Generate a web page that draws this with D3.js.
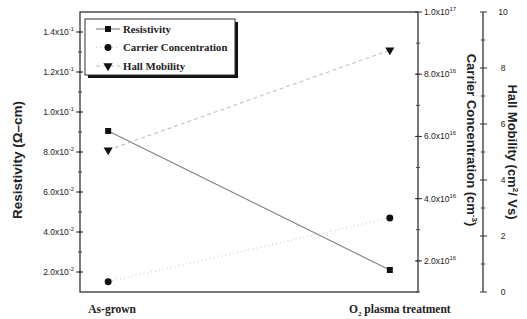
<!DOCTYPE html>
<html>
<meta charset=utf-8>
<head>
<style>
  body { margin: 0; background: #fff; }
  text { fill: #222; }
</style>
</head>
<body>
<svg id="canvas" width="527" height="319"></svg>
<script src="https://d3js.org/d3.v7.min.js"></script>
<script>

var categories = ['As-grown', 'O2 plasma treatment'];
var resistivity = [0.0905, 0.021];       // ohm-cm
var carrier = [1.33e16, 3.38e16];         // cm^-3
var mobility = [5.07, 8.64];              // cm2/Vs

var resTicks = [0.02, 0.04, 0.06, 0.08, 0.10, 0.12, 0.14];
var resTickText = [['2.0', '-2'], ['4.0', '-2'], ['6.0', '-2'], ['8.0', '-2'], ['1.0', '-1'], ['1.2', '-1'], ['1.4', '-1']];
var carTicks = [2e16, 4e16, 6e16, 8e16, 1e17];
var carTickText = [['2.0', '16'], ['4.0', '16'], ['6.0', '16'], ['8.0', '16'], ['1.0', '17']];
var mobTicks = [0, 2, 4, 6, 8, 10];

var svg = d3.select('#canvas');
var pLeft = 80, pRight = 418, pTop = 12, pBottom = 292;

var x = d3.scalePoint().domain(categories).range([pLeft, pRight]).padding(0.1);
var yRes = d3.scaleLinear().domain([0.01, 0.15]).range([pBottom, pTop]);
var yCar = d3.scaleLinear().domain([1e16, 1e17]).range([pBottom, pTop]);
var yMob = d3.scaleLinear().domain([0, 10]).range([pBottom, pTop]);

// frame
svg.append('rect')
  .attr('x', pLeft).attr('y', pTop)
  .attr('width', pRight - pLeft).attr('height', pBottom - pTop)
  .attr('fill', 'none').attr('stroke', '#333').attr('stroke-width', 1.3);

function sciLabel(sel, t) {
  sel.text(t[0] + 'x10');
  sel.append('tspan').attr('dy', -4).attr('font-size', 6).text(t[1]);
}

// left axis ticks
var minorRes = d3.range(2, 15).map(function(v) { return v / 100 });
svg.selectAll('.mres').data(minorRes).enter().append('line')
  .attr('x1', pLeft - 2).attr('x2', pLeft + 2)
  .attr('y1', function(d) { return yRes(d) }).attr('y2', function(d) { return yRes(d) })
  .attr('stroke', '#444');
svg.selectAll('.tres').data(resTicks).enter().append('line')
  .attr('x1', pLeft - 4).attr('x2', pLeft + 3)
  .attr('y1', function(d) { return yRes(d) }).attr('y2', function(d) { return yRes(d) })
  .attr('stroke', '#333');
svg.selectAll('.lres').data(resTicks).enter().append('text')
  .attr('x', pLeft - 6).attr('y', function(d) { return yRes(d) + 3 })
  .attr('text-anchor', 'end')
  .attr('font-family', 'Liberation Sans, Arial').attr('font-size', 8.5)
  .each(function(d, i) { sciLabel(d3.select(this), resTickText[i]) });

// carrier axis ticks (on right frame)
var minorCar = d3.range(1, 10).map(function(v) { return v * 1e16 });
svg.selectAll('.mcar').data(minorCar).enter().append('line')
  .attr('x1', pRight - 2).attr('x2', pRight + 2)
  .attr('y1', function(d) { return yCar(d) }).attr('y2', function(d) { return yCar(d) })
  .attr('stroke', '#444');
svg.selectAll('.tcar').data(carTicks).enter().append('line')
  .attr('x1', pRight - 3).attr('x2', pRight + 4)
  .attr('y1', function(d) { return yCar(d) }).attr('y2', function(d) { return yCar(d) })
  .attr('stroke', '#333');
svg.selectAll('.lcar').data(carTicks).enter().append('text')
  .attr('x', pRight + 6).attr('y', function(d) { return yCar(d) + 3 })
  .attr('font-family', 'Liberation Sans, Arial').attr('font-size', 8.5)
  .each(function(d, i) { sciLabel(d3.select(this), carTickText[i]) });

// mobility axis
var mobX = 483;
svg.append('line')
  .attr('x1', mobX).attr('x2', mobX).attr('y1', pTop).attr('y2', pBottom)
  .attr('stroke', '#333').attr('stroke-width', 1.3);
svg.selectAll('.mmob').data(d3.range(1, 10, 2)).enter().append('line')
  .attr('x1', mobX - 2).attr('x2', mobX + 2)
  .attr('y1', function(d) { return yMob(d) }).attr('y2', function(d) { return yMob(d) })
  .attr('stroke', '#444');
svg.selectAll('.tmob').data(mobTicks).enter().append('line')
  .attr('x1', mobX - 3).attr('x2', mobX + 4)
  .attr('y1', function(d) { return yMob(d) }).attr('y2', function(d) { return yMob(d) })
  .attr('stroke', '#333');
svg.selectAll('.lmob').data(mobTicks).enter().append('text')
  .attr('x', mobX + 20).attr('y', function(d) { return yMob(d) + 3 })
  .attr('text-anchor', 'middle')
  .attr('font-family', 'Liberation Sans, Arial').attr('font-size', 8.5)
  .text(function(d) { return d });

// axis titles
svg.append('text')
  .attr('transform', 'translate(22,160) rotate(-90)')
  .attr('text-anchor', 'middle')
  .attr('font-family', 'Liberation Sans, Arial').attr('font-weight', 'bold').attr('font-size', 13.5)
  .text('Resistivity (\u03A9\u2013cm)');

var carTitle = svg.append('text')
  .attr('transform', 'translate(467,140) rotate(90)')
  .attr('text-anchor', 'middle')
  .attr('font-family', 'Liberation Sans, Arial').attr('font-weight', 'bold').attr('font-size', 13)
  .text('Carrier Concentration (cm');
carTitle.append('tspan').attr('dy', -5).attr('font-size', 8).text('-3');
carTitle.append('tspan').attr('dy', 5).text(')');

var mobTitle = svg.append('text')
  .attr('transform', 'translate(508,152) rotate(90)')
  .attr('text-anchor', 'middle')
  .attr('font-family', 'Liberation Sans, Arial').attr('font-weight', 'bold').attr('font-size', 13)
  .text('Hall Mobility (cm');
mobTitle.append('tspan').attr('dy', -5).attr('font-size', 8).text('2');
mobTitle.append('tspan').attr('dy', 5).text('/ Vs)');

// category labels
svg.selectAll('.cat').data(categories).enter().append('text')
  .attr('x', function(d, i) { return x(d) + (i == 0 ? 4 : 10) })
  .attr('y', 313)
  .attr('text-anchor', 'middle')
  .attr('font-family', 'Liberation Serif, Times New Roman').attr('font-weight', 'bold').attr('font-size', 11.5)
  .each(function(d) {
    var t = d3.select(this);
    if (d.indexOf('O2') == 0) {
      t.text('O');
      t.append('tspan').attr('dy', 3).attr('font-size', 7).text('2');
      t.append('tspan').attr('dy', -3).text(' plasma treatment');
    } else {
      t.text(d);
    }
  });

// series
var series = [
  {name: 'Resistivity', values: resistivity, y: yRes, symbol: d3.symbolSquare, dash: null, stroke: '#808080', rot: 0, size: 36},
  {name: 'Carrier Concentration', values: carrier, y: yCar, symbol: d3.symbolCircle, dash: '1,3', stroke: '#c8c8c8', rot: 0, size: 38},
  {name: 'Hall Mobility', values: mobility, y: yMob, symbol: d3.symbolTriangle, dash: '4,3', stroke: '#c0c0c0', rot: 180, size: 36}
];

var line = d3.line();
series.forEach(function(s) {
  var pts = s.values.map(function(v, i) { return [x(categories[i]), s.y(v)] });
  svg.append('path')
    .attr('d', line(pts))
    .attr('fill', 'none')
    .attr('stroke', s.stroke)
    .attr('stroke-width', 1.1)
    .attr('stroke-dasharray', s.dash);
  svg.selectAll(null).data(pts).enter().append('path')
    .attr('d', d3.symbol().type(s.symbol).size(s.size))
    .attr('transform', function(p) { return 'translate(' + p[0] + ',' + p[1] + ') rotate(' + s.rot + ')' })
    .attr('fill', '#111');
});

// legend
var lg = svg.append('g');
lg.append('rect').attr('x', 88).attr('y', 22).attr('width', 150).attr('height', 56).attr('fill', '#111');
lg.append('rect').attr('x', 85).attr('y', 19).attr('width', 150).attr('height', 56)
  .attr('fill', '#fff').attr('stroke', '#333').attr('stroke-width', 1);
series.forEach(function(s, i) {
  var yy = 29 + i * 18.5;
  lg.append('line')
    .attr('x1', 96).attr('x2', 120).attr('y1', yy).attr('y2', yy)
    .attr('stroke', s.stroke).attr('stroke-width', 1.1).attr('stroke-dasharray', s.dash);
  lg.append('path')
    .attr('d', d3.symbol().type(s.symbol).size(s.size))
    .attr('transform', 'translate(108,' + yy + ') rotate(' + s.rot + ')')
    .attr('fill', '#111');
  lg.append('text')
    .attr('x', 123).attr('y', yy + 3.5)
    .attr('font-family', 'Liberation Serif, Times New Roman').attr('font-weight', 'bold').attr('font-size', 10.8)
    .text(s.name);
});

</script>
</body>
</html>
